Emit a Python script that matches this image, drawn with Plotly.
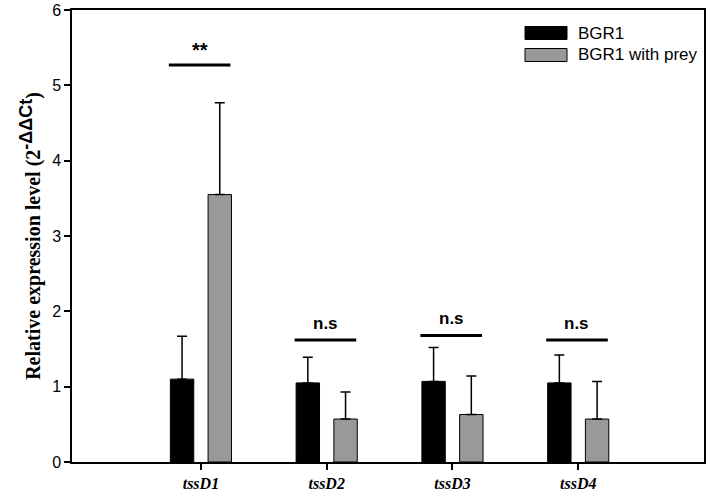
import plotly.graph_objects as go

categories = ["tssD1", "tssD2", "tssD3", "tssD4"]
bgr1 = [1.10, 1.05, 1.07, 1.05]
bgr1_err_top = [1.67, 1.39, 1.52, 1.42]
prey = [3.55, 0.57, 0.63, 0.57]
prey_err_top = [4.77, 0.93, 1.14, 1.07]
sig_labels = ["**", "n.s", "n.s", "n.s"]
sig_y = [5.27, 1.62, 1.68, 1.62]
series_names = ["BGR1", "BGR1 with prey"]
y_ticks = [0, 1, 2, 3, 4, 5, 6]

BLACK = "#000000"
GREY = "#999999"
xpos = list(range(len(categories)))

W, H = 709, 498
ML, MR, MT, MB = 72, 5, 10, 36
PW, PH = W - ML - MR, H - MT - MB

fig = go.Figure()
fig.add_trace(go.Bar(
    x=xpos, y=bgr1, name=series_names[0],
    marker=dict(color=BLACK, line=dict(color=BLACK, width=1)),
    error_y=dict(type="data", symmetric=False,
                 array=[t - v for t, v in zip(bgr1_err_top, bgr1)],
                 arrayminus=[0] * len(bgr1),
                 color=BLACK, thickness=1.5, width=5),
    showlegend=False,
))
fig.add_trace(go.Bar(
    x=xpos, y=prey, name=series_names[1],
    marker=dict(color=GREY, line=dict(color=BLACK, width=1)),
    error_y=dict(type="data", symmetric=False,
                 array=[t - v for t, v in zip(prey_err_top, prey)],
                 arrayminus=[0] * len(prey),
                 color=BLACK, thickness=1.5, width=5),
    showlegend=False,
))

# significance bars
for i, (lab, yv) in enumerate(zip(sig_labels, sig_y)):
    fig.add_shape(type="line", xref="x", yref="y",
                  x0=xpos[i] - 0.255, x1=xpos[i] + 0.235, y0=yv, y1=yv,
                  line=dict(color=BLACK, width=3))
    fig.add_annotation(x=xpos[i] - 0.01, y=yv, xref="x", yref="y",
                       text="<b>%s</b>" % lab, showarrow=False,
                       yanchor="bottom", yshift=(2 if lab == "**" else 5),
                       font=dict(family="Liberation Sans, Arial", size=(20 if lab == "**" else 17), color=BLACK))

# custom legend (pixel positions converted to paper coords)
legend_colors = [BLACK, GREY]
def px_x(x):
    return (x - ML) / PW
def px_y(y):
    return 1 - (y - MT) / PH
for k, (nm, col) in enumerate(zip(series_names, legend_colors)):
    yc = 33 + 22 * k
    fig.add_shape(type="rect", xref="paper", yref="paper",
                  x0=px_x(525), x1=px_x(567),
                  y0=px_y(yc + 6.5), y1=px_y(yc - 6.5),
                  fillcolor=col, line=dict(color=BLACK, width=1))
    fig.add_annotation(xref="paper", yref="paper",
                       x=px_x(576), y=px_y(yc),
                       text=nm, showarrow=False, xanchor="left", yanchor="middle",
                       font=dict(family="Liberation Sans, Arial", size=17, color=BLACK))

fig.update_layout(
    width=W, height=H,
    margin=dict(l=ML, r=MR, t=MT, b=MB, autoexpand=False),
    paper_bgcolor="white", plot_bgcolor="white",
    barmode="group", bargap=0.4, bargroupgap=0.38,
    showlegend=False,
    xaxis=dict(
        range=[-1.025, 4.0], tickvals=xpos,
        ticktext=["<b><i>%s</i></b>" % c for c in categories],
        tickfont=dict(family="Liberation Serif, Times New Roman", size=16, color=BLACK),
        ticks="outside", ticklen=6, tickwidth=1.5, tickcolor=BLACK,
        showline=True, linecolor=BLACK, linewidth=1.5, mirror=True,
        showgrid=False, zeroline=False,
    ),
    yaxis=dict(
        range=[0, 6], tickvals=y_ticks,
        tickfont=dict(family="Liberation Sans, Arial", size=16, color=BLACK),
        ticks="outside", ticklen=6, tickwidth=1.5, tickcolor=BLACK,
        showline=True, linecolor=BLACK, linewidth=1.5, mirror=True,
        showgrid=False, zeroline=False,
        title=dict(
            text="<b>Relative expression level (2<sup><span style=\"font-family:'Liberation Sans', Arial; font-size:18px\">-ΔΔCt</span></sup>)</b>",
            font=dict(family="Liberation Serif, Times New Roman", size=20, color=BLACK),
            standoff=6,
        ),
    ),
)

fig.write_html(
    "out.html",
    config={"displayModeBar": False},
    post_script="document.body.style.margin='0';document.body.style.overflow='hidden';",
)
